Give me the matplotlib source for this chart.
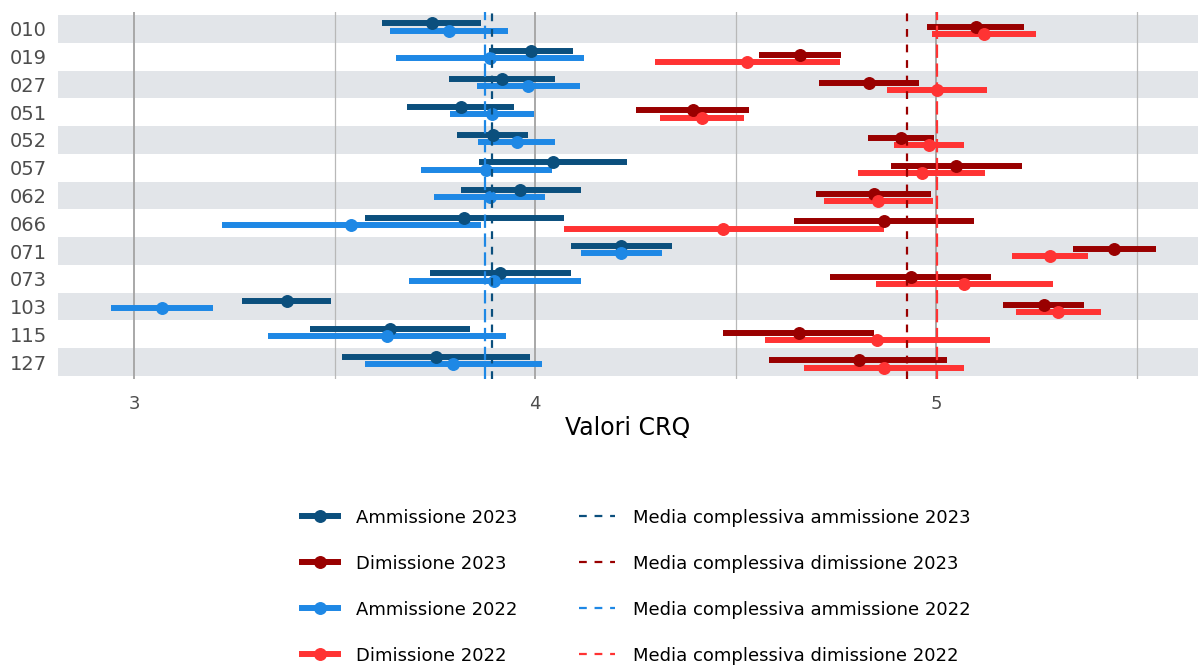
import matplotlib
matplotlib.use("Agg")
import matplotlib.pyplot as plt
from matplotlib.lines import Line2D

plt.rcParams["font.family"] = ["DejaVu Sans"]

# reparti (righe dall'alto verso il basso)
REPARTI = ["010", "019", "027", "051", "052", "057", "062", "066",
           "071", "073", "103", "115", "127"]

# Ammissione 2023
amm23_mean = [3.743, 3.990, 3.918, 3.815, 3.895, 4.045, 3.963, 3.823, 4.214, 3.913, 3.382, 3.638, 3.753]
amm23_lo = [3.618, 3.885, 3.785, 3.680, 3.805, 3.860, 3.815, 3.576, 4.090, 3.738, 3.269, 3.439, 3.519]
amm23_hi = [3.865, 4.095, 4.050, 3.948, 3.983, 4.229, 4.115, 4.072, 4.342, 4.090, 3.491, 3.838, 3.988]

# Dimissione 2023
dim23_mean = [5.099, 4.661, 4.833, 4.394, 4.913, 5.050, 4.845, 4.870, 5.444, 4.938, 5.269, 4.658, 4.808]
dim23_lo = [4.978, 4.559, 4.708, 4.252, 4.830, 4.888, 4.701, 4.646, 5.342, 4.736, 5.167, 4.469, 4.584]
dim23_hi = [5.219, 4.763, 4.958, 4.534, 4.995, 5.214, 4.988, 5.095, 5.549, 5.137, 5.369, 4.845, 5.027]

# Ammissione 2022
amm22_mean = [3.785, 3.888, 3.983, 3.893, 3.955, 3.878, 3.888, 3.541, 4.214, 3.898, 3.070, 3.631, 3.796]
amm22_lo = [3.638, 3.653, 3.855, 3.788, 3.858, 3.716, 3.748, 3.219, 4.115, 3.686, 2.943, 3.334, 3.576]
amm22_hi = [3.933, 4.122, 4.112, 3.998, 4.050, 4.042, 4.025, 3.865, 4.317, 4.115, 3.197, 3.928, 4.017]

# Dimissione 2022
dim22_mean = [5.120, 4.529, 5.002, 4.416, 4.983, 4.965, 4.855, 4.469, 5.284, 5.070, 5.304, 4.853, 4.870]
dim22_lo = [4.990, 4.299, 4.878, 4.312, 4.895, 4.805, 4.721, 4.072, 5.190, 4.850, 5.200, 4.574, 4.671]
dim22_hi = [5.249, 4.761, 5.127, 4.521, 5.070, 5.122, 4.993, 4.870, 5.379, 5.292, 5.411, 5.135, 5.070]

# medie complessive
MEDIE = [3.893, 4.928, 3.875, 5.003]

LABELS = ["Ammissione 2023", "Dimissione 2023", "Ammissione 2022", "Dimissione 2022"]
LABELS_MEDIA = ["Media complessiva ammissione 2023", "Media complessiva dimissione 2023",
                "Media complessiva ammissione 2022", "Media complessiva dimissione 2022"]
COLORS = ["#0B4F7D", "#990000", "#1E88E5", "#FF3333"]
OFFSETS = [-0.195, -0.065, 0.065, 0.195]
DASHES = [(3.5, 3.5), (3.5, 3.5), (6, 2.5), (6, 2.5)]

series = [
    (amm23_mean, amm23_lo, amm23_hi),
    (dim23_mean, dim23_lo, dim23_hi),
    (amm22_mean, amm22_lo, amm22_hi),
    (dim22_mean, dim22_lo, dim22_hi),
]

fig = plt.figure(figsize=(11.98, 6.66), dpi=100)
ax = fig.add_axes([0.0484, 0.4312, 0.9516, 0.5505])

n = len(REPARTI)
for i in range(n):
    if i % 2 == 0:
        ax.axhspan(i - 0.5, i + 0.5, color="#E2E5E9", lw=0, zorder=0)

for x in [3, 4, 5]:
    ax.axvline(x, color="#A8A8A8", lw=1.4, zorder=1)
for x in [3.5, 4.5, 5.5]:
    ax.axvline(x, color="#B8B8B8", lw=0.9, zorder=1)

ypos = list(range(n))
for (mean, lo, hi), col, off in zip(series, COLORS, OFFSETS):
    y = [p + off for p in ypos]
    ax.hlines(y, lo, hi, color=col, lw=4.3, capstyle="butt", zorder=3)
    ax.plot(mean, y, "o", color=col, ms=8.3, zorder=4)

for m, col, d in zip(MEDIE, COLORS, DASHES):
    ax.axvline(m, color=col, lw=1.6, dashes=d, zorder=5)

ax.set_xlim(2.81, 5.653)
ax.set_ylim(n - 0.4, -0.6)
ax.set_yticks(ypos)
ax.set_yticklabels(REPARTI, fontsize=14, color="#4D4D4D")
ax.set_xticks([3, 4, 5])
ax.set_xticklabels(["3", "4", "5"], fontsize=13, color="#4D4D4D")
ax.tick_params(length=0, pad=8)
ax.tick_params(axis="x", pad=12)
for s in ax.spines.values():
    s.set_visible(False)
ax.set_xlabel("Valori CRQ", fontsize=17, labelpad=2)

handles = []
for col in COLORS:
    handles.append(Line2D([], [], color=col, lw=4.3, marker="o", ms=8.3))
for col, d in zip(COLORS, DASHES):
    handles.append(Line2D([], [], color=col, lw=1.6, dashes=(3.5, 3.5)))
fig.legend(handles, LABELS + LABELS_MEDIA, ncol=2, loc="center",
           bbox_to_anchor=(0.531, 0.119), frameon=False, fontsize=13,
           handlelength=2.0, handletextpad=1.0, labelspacing=1.55,
           columnspacing=3.4)

fig.savefig("out.png", dpi=100)
